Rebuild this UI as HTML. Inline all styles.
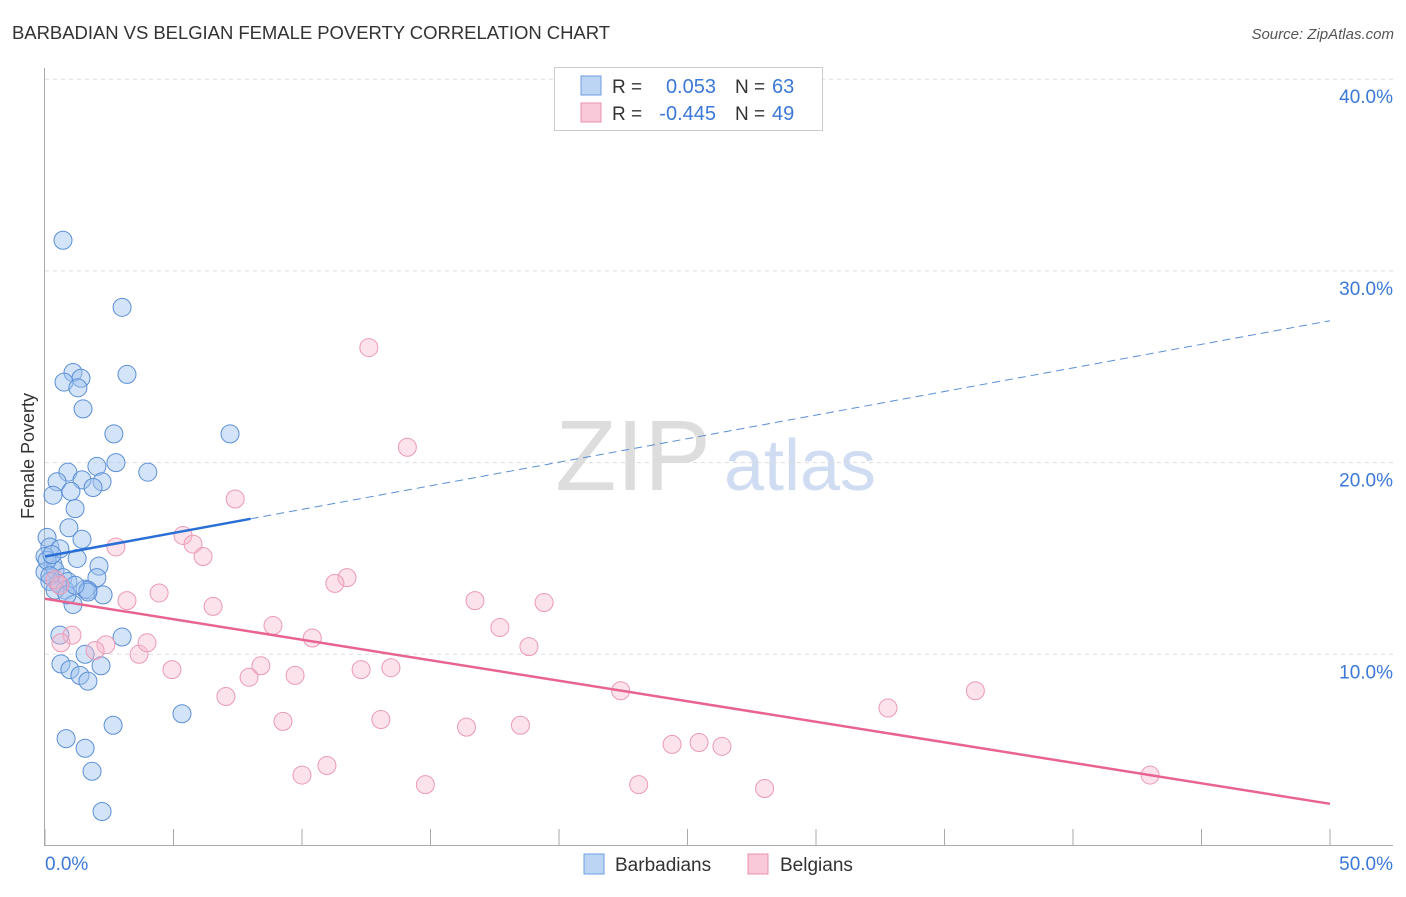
<!DOCTYPE html>
<html><head><meta charset="utf-8"><style>
body{margin:0;background:#fff;font-family:"Liberation Sans",sans-serif;}
svg text{font-family:"Liberation Sans",sans-serif;}
</style></head><body>
<svg id="chart" width="1406" height="892" xmlns="http://www.w3.org/2000/svg">
<text x="12" y="39" font-size="18.5" fill="#333" textLength="598">BARBADIAN VS BELGIAN FEMALE POVERTY CORRELATION CHART</text>
<text x="1394" y="39" font-size="15" font-style="italic" fill="#555" text-anchor="end">Source: ZipAtlas.com</text>
<text x="633" y="490" font-size="100" font-family="Liberation Serif" fill="#ddd" text-anchor="middle">ZIP</text>
<text x="800" y="490" font-size="72" fill="#cfdcf2" text-anchor="middle">atlas</text>
<g id="grid"></g>
<g id="axes"></g>
<g id="marks"></g>
<text transform="translate(34,456) rotate(-90)" font-size="18" fill="#333" text-anchor="middle">Female Poverty</text>
<g>
<rect x="554.5" y="67.5" width="268" height="63" fill="#fff" stroke="#ccc"/>
<rect x="581" y="76" width="20" height="19" fill="#bcd5f5" stroke="#6d9de0"/>
<rect x="581" y="103" width="20" height="19" fill="#f9c9d9" stroke="#e891ae"/>
<text x="612" y="93" font-size="19" fill="#333">R =</text>
<text x="716" y="93" font-size="20" fill="#3b78d8" text-anchor="end">0.053</text>
<text x="735" y="93" font-size="19" fill="#333">N =</text>
<text x="772" y="93" font-size="20" fill="#3b78d8">63</text>
<text x="612" y="120" font-size="19" fill="#333">R =</text>
<text x="716" y="120" font-size="20" fill="#3b78d8" text-anchor="end">-0.445</text>
<text x="735" y="120" font-size="19" fill="#333">N =</text>
<text x="772" y="120" font-size="20" fill="#3b78d8">49</text>
</g>
<g>
<rect x="584" y="854" width="20" height="20" fill="#bcd5f5" stroke="#6d9de0"/>
<text x="615" y="871" font-size="19" fill="#333">Barbadians</text>
<rect x="748" y="854" width="20" height="20" fill="#f9c9d9" stroke="#e891ae"/>
<text x="780" y="871" font-size="19" fill="#333">Belgians</text>
</g>
</svg>
<script>
const xTicks=[0,5,10,15,20,25,30,35,40,45,50];
const yTicks=[10,20,30,40];
const yTickLabels=["10.0%","20.0%","30.0%","40.0%"];
const xEndLabels=["0.0%","50.0%"];
const blueX=[0.7,3.0,1.09,1.4,0.74,1.28,3.19,1.48,2.68,7.2,2.76,4.0,2.02,0.89,0.47,1.44,2.22,1.87,0.31,1.01,1.17,0.93,1.44,0.08,0.19,0.58,0,1.25,0.31,2.1,0,0.39,2.02,0.7,0.19,0.89,0.51,1.56,1.67,0.78,2.26,1.09,3.0,0.58,0.62,1.56,2.18,0.97,1.36,1.67,5.33,2.65,0.82,1.56,1.83,2.22,0.08,0.19,0.39,1.67,0.86,0.27,1.17];
const blueY=[31.6,28.1,24.7,24.4,24.2,23.9,24.6,22.8,21.5,21.5,20.0,19.5,19.8,19.5,19.0,19.1,19.0,18.7,18.3,18.5,17.6,16.6,16.0,16.1,15.6,15.5,15.1,15.0,14.7,14.6,14.3,14.4,14.0,14.0,13.8,13.8,13.7,13.4,13.35,13.35,13.1,12.6,10.9,11.0,9.5,10.0,9.4,9.2,8.9,8.6,6.9,6.3,5.6,5.1,3.9,1.8,14.9,14.1,13.35,13.25,13.1,15.2,13.6];
const pinkX=[12.6,14.1,7.4,5.37,5.76,6.15,2.76,11.75,11.28,4.44,3.19,6.54,16.73,19.42,8.87,17.7,10.4,18.83,1.05,0.62,2.37,1.95,3.66,3.97,4.94,8.4,12.3,13.46,7.94,9.73,7.04,22.4,36.2,32.8,9.26,13.07,16.4,18.5,24.4,25.45,26.34,10.0,10.97,14.8,23.1,28.0,43.0,0.39,0.58];
const pinkY=[26.0,20.8,18.1,16.2,15.75,15.1,15.6,14.0,13.7,13.2,12.8,12.5,12.8,12.7,11.5,11.4,10.85,10.4,11.0,10.6,10.5,10.2,10.0,10.6,9.2,9.4,9.2,9.3,8.8,8.9,7.8,8.1,8.1,7.2,6.5,6.6,6.2,6.3,5.3,5.4,5.2,3.7,4.2,3.2,3.2,3.0,3.7,13.9,13.6];
const blueTrend=[15.1,27.4]; const blueSolidEnd=8.0;
const pinkTrend=[12.9,2.2];
const X=v=>45+v*25.7, Y=v=>846-v*19.17;
const NS="http://www.w3.org/2000/svg";
function mk(tag,attrs,parent){const e=document.createElementNS(NS,tag);for(const k in attrs)e.setAttribute(k,attrs[k]);document.getElementById(parent).appendChild(e);return e;}
yTicks.forEach((t,i)=>{
 const l=mk('line',{x1:45,x2:1393,y1:Y(t),y2:Y(t),stroke:'#ddd','stroke-dasharray':'4,4'},'grid');
 
 
 const tx=mk('text',{x:1393,y:Y(t)+24,'font-size':19,fill:'#3b78d8','text-anchor':'end'},'grid');
 tx.textContent=yTickLabels[i];
 
 
});
const ya=mk('line',{x1:44.5,x2:44.5,y1:68,y2:846,stroke:'#aaa'},'axes');


const xa=mk('line',{x1:45,x2:1393,y1:845.5,y2:845.5,stroke:'#aaa'},'axes');


xTicks.forEach(t=>{const l=mk('line',{x1:X(t),x2:X(t),y1:829,y2:846,stroke:'#aaa'},'axes');
 
 });
const l0=mk('text',{x:45,y:870,'font-size':19,fill:'#3b78d8'},'axes');l0.textContent=xEndLabels[0];


const l1=mk('text',{x:1393,y:870,'font-size':19,fill:'#3b78d8','text-anchor':'end'},'axes');l1.textContent=xEndLabels[1];


blueX.forEach((x,i)=>{const c=mk('circle',{cx:X(x),cy:Y(blueY[i]),r:9,fill:'rgba(160,196,240,0.45)',stroke:'#5b8fd6','stroke-width':1},'marks');
 
 });
pinkX.forEach((x,i)=>{const c=mk('circle',{cx:X(x),cy:Y(pinkY[i]),r:9,fill:'rgba(246,182,204,0.4)',stroke:'#ec9ab6','stroke-width':1},'marks');
 
 });
const bAt=x=>blueTrend[0]+(blueTrend[1]-blueTrend[0])*x/50;
const bs=mk('line',{x1:X(0),y1:Y(bAt(0)),x2:X(blueSolidEnd),y2:Y(bAt(blueSolidEnd)),stroke:'#2a6fd6','stroke-width':2.5},'marks');


const bd=mk('line',{x1:X(blueSolidEnd),y1:Y(bAt(blueSolidEnd)),x2:X(50),y2:Y(bAt(50)),stroke:'#5b8fd6','stroke-width':1,'stroke-dasharray':'8,5'},'marks');


const pt=mk('line',{x1:X(0),y1:Y(pinkTrend[0]),x2:X(50),y2:Y(pinkTrend[1]),stroke:'#e8648e','stroke-width':2.5},'marks');


</script>
</body></html>
